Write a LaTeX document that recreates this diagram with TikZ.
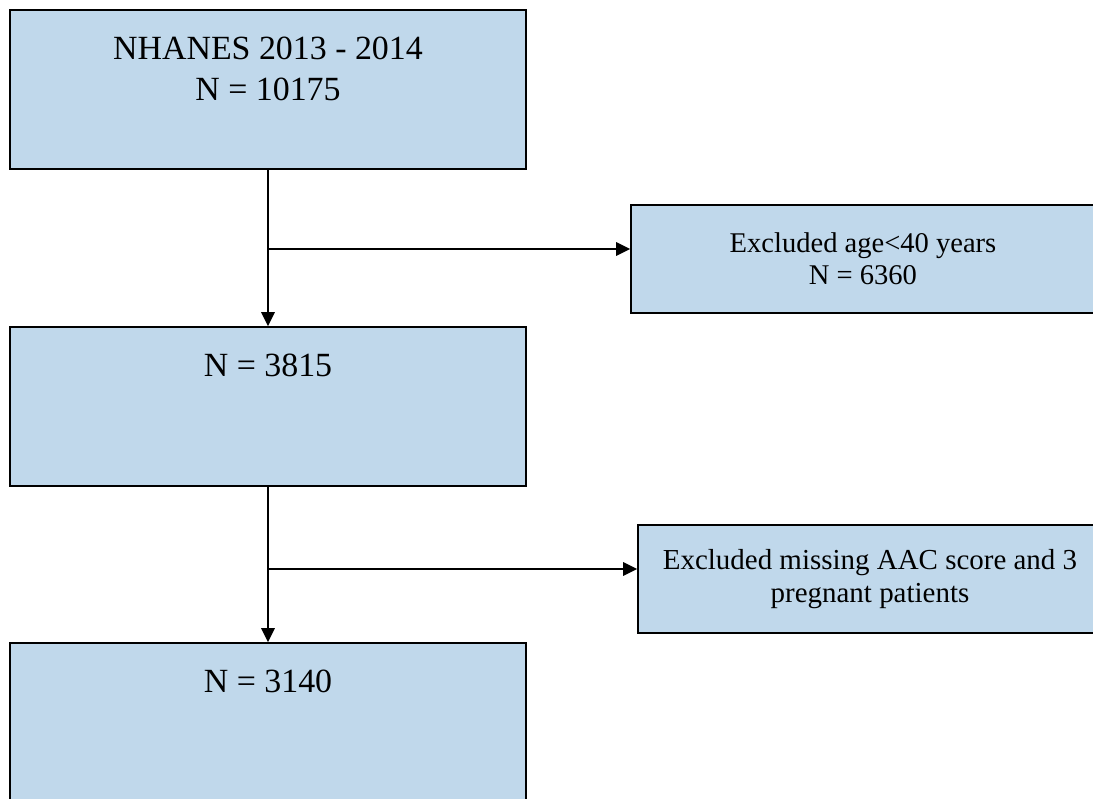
\documentclass[tikz,border=0pt]{standalone}
\usepackage{fontspec}
\setmainfont{Liberation Serif}
\usetikzlibrary{arrows.meta,positioning}
\definecolor{boxblue}{RGB}{192,216,235}
\begin{document}
\begin{tikzpicture}[x=0.025cm, y=-0.025cm,
    box/.style={draw, rectangle, fill=boxblue, line width=1pt, minimum width=12.9cm, minimum height=3.975cm},
    sidebox/.style={draw, rectangle, fill=boxblue, line width=1pt, minimum width=11.6cm, minimum height=2.7cm, align=center},
    boxtext/.style={anchor=north, inner sep=0pt, align=center, font=\fontsize{24.1}{29}\selectfont},
    arr/.style={-{Triangle[length=10pt,width=9.5pt]}, line width=1.4pt}]
    \clip (0,0) rectangle (1093,799);

    % Main column
    \node[box] (nhanes) at (268,89.5) {};
    \node[box] (adults) at (268,406.5) {};
    \node[box] (final) at (268,722.5) {};

    % Counts at the top of each box
    \node[boxtext] (nhanestxt) at ([yshift=-0.69cm]nhanes.north) {NHANES 2013 - 2014\\N = 10175};
    \node[boxtext] (adultstxt) at ([yshift=-0.69cm]adults.north) {N = 3815};
    \node[boxtext] (finaltxt) at ([yshift=-0.69cm]final.north) {N = 3140};

    % Exclusions
    \node[sidebox, font=\fontsize{20.3}{22.5}\selectfont] (excl1) at (863,259) {Excluded age<40 years\\N = 6360};
    \node[sidebox, font=\fontsize{20.6}{24}\selectfont] (excl2) at (870,579) {Excluded missing AAC score and 3\\pregnant patients};

    % Connections
    \draw[arr] (nhanes) -- (adults);
    \draw[arr] (adults) -- (final);
    \coordinate (split1) at (268,249);
    \coordinate (split2) at (268,569);
    \draw[arr] (split1) -- (split1 -| excl1.west);
    \draw[arr] (split2) -- (split2 -| excl2.west);
\end{tikzpicture}
\end{document}
